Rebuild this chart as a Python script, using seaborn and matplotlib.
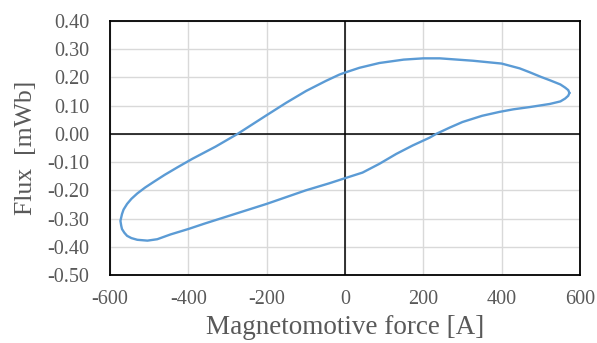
import numpy as np
import pandas as pd
import seaborn as sns
import matplotlib.pyplot as plt

# Loop traced from the right tip: upper branch to the left, then lower branch back
mmf = [573, 570, 562, 550, 523, 500, 472, 446, 400, 327, 242, 200, 150, 88, 37, 0, -14,
       -48, -99, -150, -200, -274, -330, -389, -427, -460, -487, -510, -530, -545, -556,
       -565, -569, -573, -571, -569, -563, -556, -545, -530, -504, -479, -445, -400, -359,
       -300, -250, -200, -150, -100, -40, 0, 45, 88, 131, 173, 216, 233, 267, 300, 350,
       395, 430, 472, 523, 550, 562, 570, 573]
flux = [0.145, 0.155, 0.164, 0.175, 0.190, 0.202, 0.218, 0.232, 0.249, 0.259, 0.2675,
        0.2675, 0.263, 0.251, 0.234, 0.217, 0.210, 0.188, 0.152, 0.110, 0.066, 0.0,
        -0.045, -0.088, -0.118, -0.145, -0.169, -0.190, -0.211, -0.230, -0.248, -0.268,
        -0.284, -0.308, -0.325, -0.337, -0.350, -0.361, -0.369, -0.375, -0.378, -0.373,
        -0.356, -0.337, -0.318, -0.292, -0.270, -0.248, -0.224, -0.200, -0.175, -0.157,
        -0.137, -0.106, -0.071, -0.041, -0.0135, 0.0, 0.022, 0.042, 0.064, 0.078, 0.087,
        0.095, 0.106, 0.115, 0.125, 0.135, 0.145]

x_ticks = [-600, -400, -200, 0, 200, 400, 600]
y_ticks = [-0.50, -0.40, -0.30, -0.20, -0.10, 0.00, 0.10, 0.20, 0.30, 0.40]

df = pd.DataFrame({'mmf': mmf, 'flux': flux})

sns.set_style('white')
plt.rcParams['font.family'] = ['Liberation Serif', 'DejaVu Serif']
plt.rcParams['axes.unicode_minus'] = False

fig = plt.figure(figsize=(5.97, 3.43), dpi=100)
ax = fig.add_axes([0.184, 0.198, 0.7875, 0.741])

sns.lineplot(data=df, x='mmf', y='flux', sort=False, estimator=None,
             color='#5B9BD5', linewidth=1.7, ax=ax, zorder=3)

ax.set_xlim(-600, 600)
ax.set_ylim(-0.5, 0.4)
ax.set_xticks(x_ticks)
ax.set_yticks(y_ticks)
ax.set_xticklabels([str(v) for v in x_ticks])
ax.set_yticklabels(['%.2f' % v for v in y_ticks])
ax.grid(True, color='#D9D9D9', linewidth=1.0)
ax.axhline(0, color='black', linewidth=1.1, zorder=2)
ax.axvline(0, color='black', linewidth=1.1, zorder=2)
for s in ax.spines.values():
    s.set_color('black')
    s.set_linewidth(1.3)
ax.tick_params(length=0, labelsize=14.5, colors='#595959')
ax.tick_params(axis='y', pad=15)
ax.tick_params(axis='x', pad=11)

ax.set_xlabel('Magnetomotive force [A]', fontsize=19.5, color='#595959', labelpad=4)
ax.set_ylabel('Flux  [mWb]', fontsize=18.5, color='#595959', labelpad=7)

fig.savefig('out.png', dpi=100)
